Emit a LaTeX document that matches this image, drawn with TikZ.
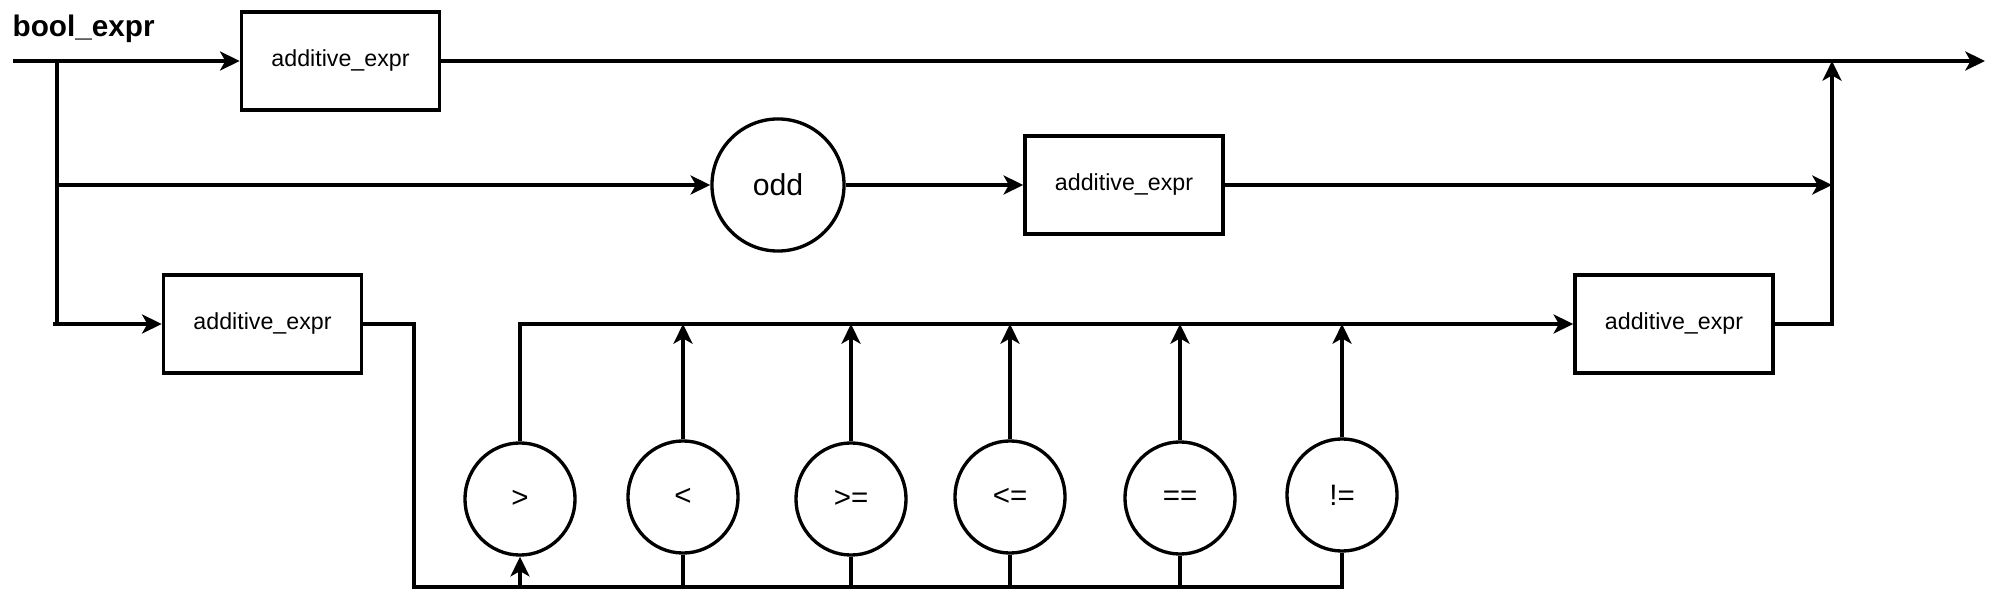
\documentclass[tikz,border=0pt]{standalone}
\usepackage{fontspec}
\setmainfont{Liberation Sans}
\usetikzlibrary{arrows.meta,shapes.geometric}
\begin{document}
\begin{tikzpicture}[x=0.01cm,y=-0.01cm,
  line width=0.95pt,
  arr/.style={-{Stealth[length=5.6pt,width=5.4pt,inset=1.5pt]}},
  rule/.style={draw,rectangle,minimum width=1.98cm,minimum height=0.98cm,inner sep=0pt,font=\fontsize{6.6pt}{7pt}\selectfont},
  term/.style={draw,circle,minimum size=1.32cm,inner sep=0pt,font=\fontsize{8.6pt}{9pt}\selectfont},
  op/.style={draw,ellipse,minimum width=1.10cm,minimum height=1.12cm,inner sep=0pt,font=\fontsize{8.4pt}{9pt}\selectfont}]
\useasboundingbox (0,0) rectangle (2000,613);
\node[anchor=base west,inner sep=0pt,font=\fontsize{8.45pt}{9pt}\selectfont\bfseries] (title) at (11,37) {bool\_expr};
\node[rule] (b1) at (340.5,61) {additive\_expr};
\node[term] (odd) at (778,185) {odd};
\node[rule] (b2) at (1124,185) {additive\_expr};
\node[rule] (b3) at (262.5,324) {additive\_expr};
\node[rule] (b4) at (1674,324) {additive\_expr};
\node[op] (gt) at (520,499) {>};
\node[op] (lt) at (683,497) {<};
\node[op] (ge) at (851,499) {>=};
\node[op] (le) at (1010,497) {<=};
\node[op] (eq) at (1180,498) {==};
\node[op] (ne) at (1342,495) {!=};
\coordinate (start) at (13,61);
\coordinate (j1) at (57,61);
\coordinate (j2) at (57,185);
\coordinate (j3) at (57,324);
\coordinate (out) at (1985,61);
\coordinate (m1) at (1832,61);
\coordinate (m2) at (1832,185);
\coordinate (m3) at (1832,324);
\coordinate (d1) at (414,324);
\coordinate (d2) at (414,587);
\coordinate (d3) at (1344,587);
\coordinate (u1) at (520,324);
% main path
\draw[arr] (start) -- (b1.west);
\draw[arr] (b1.east |- out) -- (out);
\draw (j1) -- (j3);
\draw[arr] (j2) -- (odd.west);
\draw[arr] (j3) ++(-4,0) -- (b3.west);
\draw[arr] (odd.east) -- (b2.west |- odd.east);
\draw[arr] (b2.east) -- (m2);
\draw[arr] (b4.east) -- (m3) -- (m1);
% operators
\draw (b3.east) -- (d1) -- (d2) -- (d3);
\draw[arr] (gt.south |- d2) -- (gt.south);
\draw (lt.south) -- (lt.south |- d2);
\draw (ge.south) -- (ge.south |- d2);
\draw (le.south) -- (le.south |- d2);
\draw (eq.south) -- (eq.south |- d2);
\draw (ne.south) -- (ne.south |- d2);
\draw[arr] (gt.north) -- (u1) -- (b4.west);
\draw[arr] (lt.north) -- (lt.north |- u1);
\draw[arr] (ge.north) -- (ge.north |- u1);
\draw[arr] (le.north) -- (le.north |- u1);
\draw[arr] (eq.north) -- (eq.north |- u1);
\draw[arr] (ne.north) -- (ne.north |- u1);
\end{tikzpicture}
\end{document}
